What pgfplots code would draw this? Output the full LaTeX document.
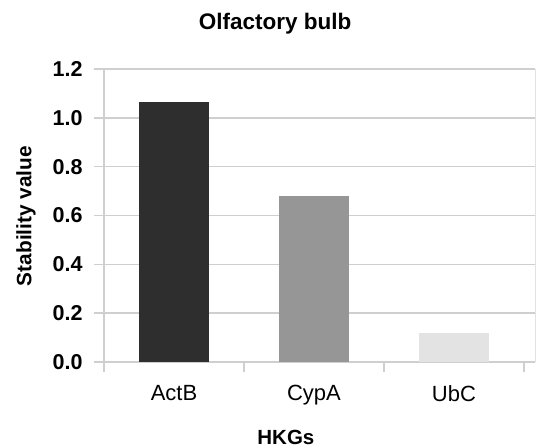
\documentclass[border=0pt]{standalone}
\usepackage{pgfplots}
\pgfplotsset{compat=1.18}
\usepackage{fontspec}
\setmainfont{Liberation Sans}
\definecolor{gridc}{HTML}{CFCFCF}
\definecolor{barA}{HTML}{2E2E2E}
\definecolor{barB}{HTML}{969696}
\definecolor{barC}{HTML}{E3E3E3}
\begin{document}
\begin{tikzpicture}[x=1bp,y=1bp]
\path[use as bounding box] (-104bp,-86bp) rectangle (432bp,362bp);
\begin{axis}[
  at={(0,0)}, anchor=south west,
  scale only axis,
  width=431bp, height=293bp,
  xmin=-0.5, xmax=2.579,
  ymin=0, ymax=1.2,
  axis x line*=bottom, axis y line*=left,
  axis line style={draw=gridc, line width=1.4bp},
  every axis plot/.append style={ybar, bar width=0.5, bar shift=0pt, draw=none},
  xtick={-0.5,0.5,1.5,2.5}, xticklabels={},
  extra x ticks={0,1,2},
  extra x tick labels={ActB,CypA,UbC},
  extra x tick style={major tick length=0pt, grid=none},
  ytick={0,0.2,...,1.2},
  y tick label style={/pgf/number format/fixed, /pgf/number format/fixed zerofill, /pgf/number format/precision=1},
  /pgf/number format/assume math mode=true,
  tick align=outside,
  major tick length=10bp,
  tick style={draw=gridc, line width=1.4bp},
  ymajorgrids, xmajorgrids=false,
  grid style={draw=gridc, line width=1.4bp},
  yticklabel style={font=\fontsize{21.5bp}{24bp}\selectfont\bfseries, xshift=-8bp},
  xticklabel style={font=\fontsize{22bp}{24bp}\selectfont, yshift=-20bp},
  title={\bfseries Olfactory bulb},
  title style={font=\fontsize{22.5bp}{26bp}\selectfont, at={(0.397,1.133)}, anchor=center},
  xlabel={\bfseries HKGs},
  xlabel style={font=\fontsize{20.5bp}{24bp}\selectfont, at={(0.422,-0.256)}, anchor=center},
  ylabel={\bfseries Stability value},
  ylabel style={font=\fontsize{20.8bp}{24bp}\selectfont, at={(-0.181,0.498)}, anchor=center, rotate=0},
  clip=false,
]
\addplot[fill=barA] coordinates {(0,1.066)};
\addplot[fill=barB] coordinates {(1,0.681)};
\addplot[fill=barC] coordinates {(2,0.118)};
\draw[draw=gridc!60, line width=0.8bp] (rel axis cs:1,0) -- (rel axis cs:1,1);
\end{axis}
\end{tikzpicture}
\end{document}
